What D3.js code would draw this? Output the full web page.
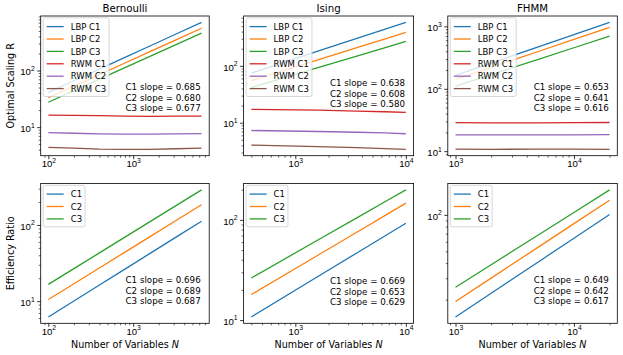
<!DOCTYPE html>
<html lang="en">
<head>
  <meta charset="UTF-8">
  <title>Optimal scaling and efficiency ratio</title>
  <script src="https://d3js.org/d3.v7.min.js"></script>
  <style>
    body { margin: 0; background: #fff; }
    svg { font-family: "DejaVu Sans", sans-serif; }
    .tick text { font-size: 9.6px; fill: #000; }
    .tick line { stroke: #000; }
  </style>
</head>
<body>
  <svg width="623" height="355"></svg>

  <script>
    // ---- data ----
    const titles = ["Bernoulli", "Ising", "FHMM"];

    const nBernoulli = [100, 200, 400, 800, 1600, 3200, 6400];
    const nIsing = [400, 1600, 3600, 6400, 10000];
    const nFhmm = [1000, 2000, 5000, 10000, 20000];

    const scalingNames = ["LBP C1", "LBP C2", "LBP C3", "RWM C1", "RWM C2", "RWM C3"];
    const ratioNames = ["C1", "C2", "C3"];

    const bernoulliScaling = [
      [41, 66, 106, 170, 274, 441, 709],
      [33, 52.9, 84.7, 135.7, 217.4, 348.3, 558],
      [27.5, 44, 70.3, 112.4, 179.7, 287.3, 459],
      [16.3, 16.1, 15.9, 15.6, 15.5, 15.6, 15.7],
      [8.0, 7.8, 7.6, 7.5, 7.5, 7.6, 7.7],
      [4.4, 4.25, 4.1, 4.05, 4.05, 4.15, 4.25]
    ];
    const isingScaling = [
      [74.6, 180.8, 303, 437.8, 582],
      [54.8, 127.3, 208.5, 295.8, 388],
      [41.6, 92.9, 148.7, 207.7, 269],
      [17.2, 16.6, 16.0, 15.6, 15.2],
      [7.3, 7.0, 6.8, 6.6, 6.4],
      [4.03, 3.8, 3.65, 3.5, 3.4]
    ];
    const fhmmScaling = [
      [164, 257.9, 469, 737.7, 1160],
      [141, 219.9, 395.6, 616.9, 962],
      [110, 168.6, 296.5, 454.3, 696.4],
      [28.6, 28.4, 28.5, 28.7, 28.8],
      [18.3, 18.2, 18.3, 18.2, 18.4],
      [10.8, 10.7, 10.8, 10.8, 10.7]
    ];

    const bernoulliRatio = [
      [6.2, 10.04, 16.27, 26.36, 42.7, 69.2, 112.1],
      [10.5, 16.93, 27.29, 44.0, 70.9, 114.3, 184.3],
      [16.6, 26.7, 43.0, 69.3, 111.6, 179.6, 289.2]
    ];
    const isingRatio = [
      [10.75, 27.2, 46.8, 68.7, 92.6],
      [18.0, 44.4, 75.4, 109.8, 147],
      [26.3, 63.0, 104.9, 150.7, 199.5]
    ];
    const fhmmRatio = [
      [14.4, 22.6, 40.9, 64.2, 100.6],
      [19.3, 30.1, 54.2, 84.6, 132.1],
      [25.3, 38.8, 68.3, 104.7, 160.7]
    ];

    const scalingSlopes = [["0.685", "0.680", "0.677"], ["0.638", "0.608", "0.580"], ["0.653", "0.641", "0.616"]];
    const ratioSlopes = [["0.696", "0.689", "0.687"], ["0.669", "0.653", "0.629"], ["0.649", "0.642", "0.617"]];

    const colors = ["#1f77b4", "#ff7f0e", "#2ca02c", "#d62728", "#9467bd", "#8c564b"];

    // ---- layout ----
    const cols = [[40.7, 209.2], [243.6, 413.6], [447.8, 617.3]];
    const rows = [[16, 155.7], [183.5, 323.3]];
    const noteTop = [[87, 83, 87], [280, 281, 280]];

    const svg = d3.select("svg");

    const ns = [nBernoulli, nIsing, nFhmm];
    const scaling = [bernoulliScaling, isingScaling, fhmmScaling];
    const ratio = [bernoulliRatio, isingRatio, fhmmRatio];

    function logDomain(vals) {
      const lo = Math.log10(d3.min(vals)), hi = Math.log10(d3.max(vals));
      const m = (hi - lo) * 0.05;
      return [Math.pow(10, lo - m), Math.pow(10, hi + m)];
    }

    function logTicks(domain) {
      const major = [], minor = [];
      for (let e = -1; e < 7; e++) {
        const p = Math.pow(10, e);
        if (p >= domain[0] && p <= domain[1]) major.push(p);
        for (let k = 2; k < 10; k++) {
          const v = k * p;
          if (v >= domain[0] && v <= domain[1]) minor.push(v);
        }
      }
      return {major, minor};
    }

    function addPow(sel) {
      sel.each(function(d) {
        const t = d3.select(this);
        t.text("10");
        t.append("tspan")
          .attr("dy", -4.3)
          .style("font-size", "6.8px")
          .text(Math.round(Math.log10(d)));
      });
    }

    let clipId = 0;

    function panel(ri, ci, xs, series, names, slopes) {
      const [x0, x1] = cols[ci], [y0, y1] = rows[ri];
      const g = svg.append("g");

      const x = d3.scaleLog().domain(logDomain(xs)).range([x0, x1]);
      const y = d3.scaleLog().domain(logDomain(series.flat())).range([y1, y0]);

      const id = "clip" + (clipId++);
      svg.append("clipPath").attr("id", id)
        .append("rect").attr("x", x0).attr("y", y0).attr("width", x1 - x0).attr("height", y1 - y0);

      const line = d3.line().x((d, i) => x(xs[i])).y(d => y(d));
      g.append("g").attr("clip-path", `url(#${id})`)
        .selectAll("path").data(series).join("path")
        .attr("d", line)
        .attr("fill", "none")
        .attr("stroke", (d, i) => colors[i])
        .attr("stroke-width", 1.3);

      // axes
      const xt = logTicks(x.domain()), yt = logTicks(y.domain());
      const xMinor = g.append("g").attr("transform", `translate(0,${y1})`)
        .call(d3.axisBottom(x).tickValues(xt.minor).tickSize(2).tickFormat(""));
      const xMajor = g.append("g").attr("transform", `translate(0,${y1})`)
        .call(d3.axisBottom(x).tickValues(xt.major).tickSize(3.5));
      xMajor.selectAll(".tick text").attr("y", 11.5).attr("dy", null).call(addPow);
      const yMinor = g.append("g").attr("transform", `translate(${x0},0)`)
        .call(d3.axisLeft(y).tickValues(yt.minor).tickSize(2).tickFormat(""));
      const yMajor = g.append("g").attr("transform", `translate(${x0},0)`)
        .call(d3.axisLeft(y).tickValues(yt.major).tickSize(3.5));
      yMajor.selectAll(".tick text").attr("x", -6).attr("dy", null).attr("y", 4.2).call(addPow);
      [xMinor, xMajor, yMinor, yMajor].forEach(a => {
        a.select(".domain").remove();
        a.selectAll(".tick line").attr("stroke-width", 0.8);
      });
      xMinor.selectAll(".tick line").attr("stroke-width", 0.6);
      yMinor.selectAll(".tick line").attr("stroke-width", 0.6);

      // frame
      g.append("rect").attr("x", x0).attr("y", y0)
        .attr("width", x1 - x0).attr("height", y1 - y0)
        .attr("fill", "none").attr("stroke", "#000").attr("stroke-width", 0.8);

      // slope notes
      g.append("g").selectAll("text").data(slopes).join("text")
        .attr("x", x1 - 8.5)
        .attr("y", (d, i) => noteTop[ri][ci] + 3.2 + i * 10.5)
        .attr("text-anchor", "end")
        .style("font-size", "8.7px")
        .text((d, i) => `C${i + 1} slope = ${d}`);

      // legend
      const lg = g.append("g").attr("transform", `translate(${x0 + 2.5},${y0 + 1.8})`);
      const box = lg.append("rect")
        .attr("fill", "#fff").attr("fill-opacity", 0.8)
        .attr("stroke", "#cccccc").attr("stroke-width", 0.8).attr("rx", 2);
      const items = lg.selectAll("g").data(names).join("g")
        .attr("transform", (d, i) => `translate(0,${8.8 + i * 12.4})`);
      items.append("line").attr("x1", 3.5).attr("x2", 20.5)
        .attr("stroke", (d, i) => colors[i]).attr("stroke-width", 1.3);
      const labels = items.append("text").attr("x", 27.5).attr("y", 3.1)
        .style("font-size", "8.5px").text(d => d);
      let w = 0;
      labels.each(function() { w = Math.max(w, this.getComputedTextLength()); });
      box.attr("width", 27.5 + w + 3).attr("height", names.length * 12.4 + 4.3);
    }

    for (let c = 0; c < 3; c++) {
      panel(0, c, ns[c], scaling[c], scalingNames, scalingSlopes[c]);
      panel(1, c, ns[c], ratio[c], ratioNames, ratioSlopes[c]);

      svg.append("text")
        .attr("x", (cols[c][0] + cols[c][1]) / 2).attr("y", 12.3)
        .attr("text-anchor", "middle").style("font-size", "10.2px")
        .text(titles[c]);

      const xl = svg.append("text")
        .attr("x", (cols[c][0] + cols[c][1]) / 2).attr("y", 347.5)
        .attr("text-anchor", "middle").style("font-size", "9.6px")
        .text("Number of Variables ");
      xl.append("tspan").style("font-style", "italic").text("N");
    }

    svg.append("text")
      .attr("transform", `translate(13.5,${(rows[0][0] + rows[0][1]) / 2}) rotate(-90)`)
      .attr("text-anchor", "middle").style("font-size", "9.6px")
      .text("Optimal Scaling R");
    svg.append("text")
      .attr("transform", `translate(13.5,${(rows[1][0] + rows[1][1]) / 2}) rotate(-90)`)
      .attr("text-anchor", "middle").style("font-size", "9.6px")
      .text("Efficiency Ratio");
  </script>
</body>
</html>
